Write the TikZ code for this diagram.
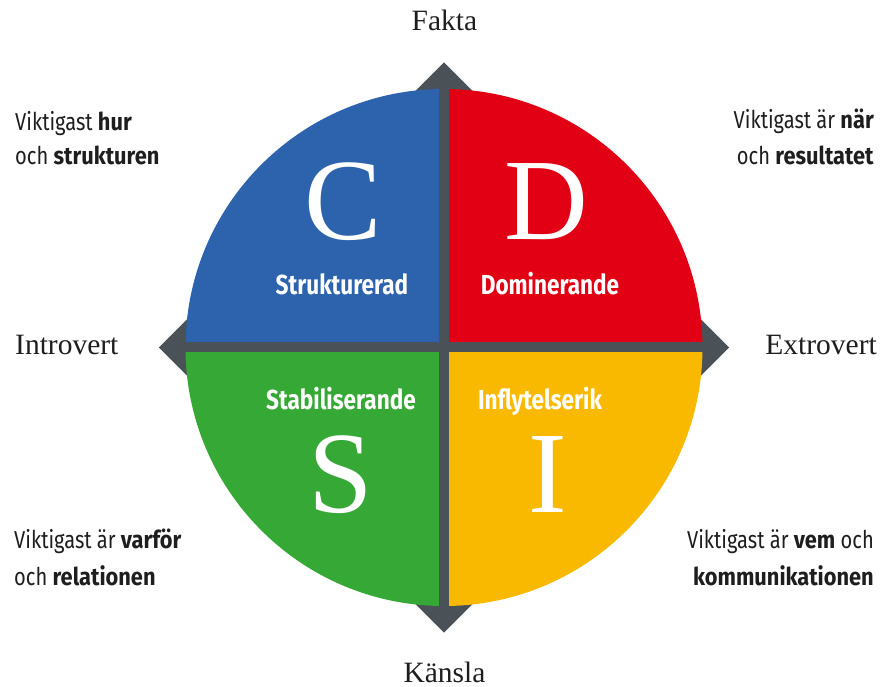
\documentclass[tikz,border=0pt]{standalone}
\usepackage{fontspec}
\setmainfont{Liberation Serif}
\setsansfont[FakeStretch=0.82]{Fira Sans}
\newfontfamily\notefont[FakeStretch=0.82, BoldFeatures={FakeStretch=0.89}]{Fira Sans}
\usepackage{tikz}

\definecolor{discblue}{HTML}{2D63AC}
\definecolor{discred}{HTML}{E20014}
\definecolor{discgreen}{HTML}{36A835}
\definecolor{discyellow}{HTML}{F9B900}
\definecolor{crossgray}{HTML}{4A5258}
\definecolor{inktext}{HTML}{1E1E1E}

\tikzset{
  axislabel/.style={inner sep=0pt, text=inktext, font=\fontsize{29.5}{29.5}\selectfont},
  bigletter/.style={inner sep=0pt, text=white, anchor=base, font=\fontsize{116}{116}\selectfont},
  quadlabel/.style={inner sep=0pt, text=white, anchor=base, font=\sffamily\bfseries\fontsize{27.5}{27.5}\selectfont},
  sidenote/.style={inner sep=0pt, text=inktext, font=\notefont\fontsize{24.5}{24.5}\selectfont},
}

\begin{document}
\begin{tikzpicture}[x=1pt, y=1pt]
        \useasboundingbox (-444,-339.5) rectangle (439,347.5);
        % --- Draw arrow tips of the cross ---
        \fill[crossgray] (0,285) -- (45,240) -- (-45,240) -- cycle;
        \fill[crossgray] (0,-285) -- (45,-240) -- (-45,-240) -- cycle;
        \fill[crossgray] (-285,0) -- (-240,45) -- (-240,-45) -- cycle;
        \fill[crossgray] (285,0) -- (240,45) -- (240,-45) -- cycle;
        % --- Draw the four quadrants ---
        \fill[discblue] (0,0) -- (-258.5,0) arc (180:90:258.5) -- cycle;
        \fill[discred] (0,0) -- (0,258.5) arc (90:0:258.5) -- cycle;
        \fill[discyellow] (0,0) -- (258.5,0) arc (0:-90:258.5) -- cycle;
        \fill[discgreen] (0,0) -- (0,-258.5) arc (-90:-180:258.5) -- cycle;
        % --- Draw the cross ---
        \draw[crossgray, line width=10pt] (0,-262) -- (0,262);
        \draw[crossgray, line width=10pt] (-262,0) -- (262,0);
        % --- Axis labels ---
        \node[axislabel, anchor=base] (fakta) at (0.5,316.5) {Fakta};
        \node[axislabel, anchor=base] (kansla) at (0.5,-334.5) {Känsla};
        \node[axislabel, anchor=base west] (introvert) at (-429,-7.5) {Introvert};
        \node[axislabel, anchor=base east] (extrovert) at (433,-7.5) {Extrovert};
        % --- Letters and names ---
        \node[bigletter] (letterC) at (-101,107.5) {C};
        \node[bigletter] (letterD) at (102,107.5) {D};
        \node[bigletter] (letterS) at (-103,-164.5) {S};
        \node[bigletter] (letterI) at (104,-164.5) {I};
        \node[quadlabel] (nameC) at (-102,52.5) {Strukturerad};
        \node[quadlabel] (nameD) at (106,52.5) {Dominerande};
        \node[quadlabel] (nameS) at (-103,-62.5) {Stabiliserande};
        \node[quadlabel] (nameI) at (96,-62.5) {Inflytelserik};
        % --- Side notes ---
        \node[sidenote, anchor=base west] (noteCa) at (-429,216.5) {Viktigast \textbf{hur}};
        \node[sidenote, anchor=base west] (noteCb) at (-429,182.5) {och \textbf{strukturen}};
        \node[sidenote, anchor=base east] (noteDa) at (430,218.5) {Viktigast är \textbf{när}};
        \node[sidenote, anchor=base east] (noteDb) at (430,182.5) {och \textbf{resultatet}};
        \node[sidenote, anchor=base west] (noteSa) at (-430,-200.5) {Viktigast är \textbf{varför}};
        \node[sidenote, anchor=base west] (noteSb) at (-430,-237.5) {och \textbf{relationen}};
        \node[sidenote, anchor=base east] (noteIa) at (430,-200.5) {Viktigast är \textbf{vem} och};
        \node[sidenote, anchor=base east] (noteIb) at (430,-237.5) {\textbf{kommunikationen}};
        % ---
\end{tikzpicture}
\end{document}
